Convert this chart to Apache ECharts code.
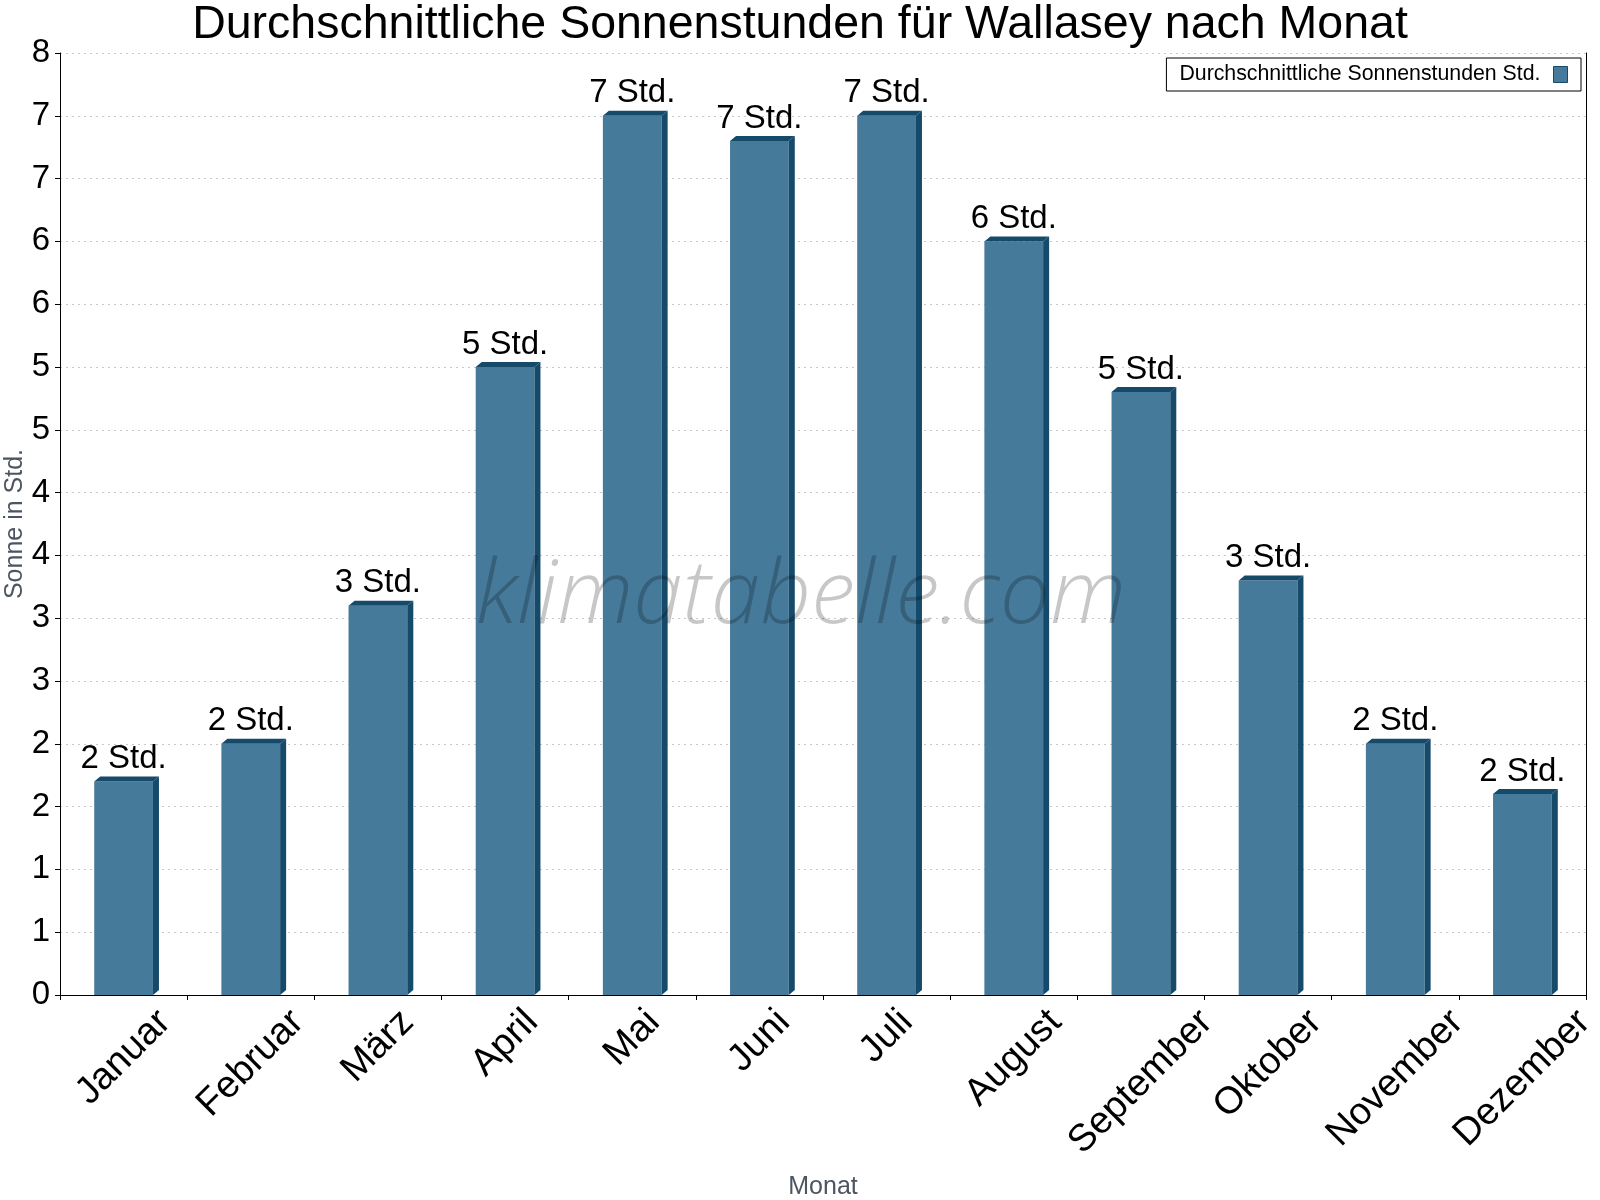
<!DOCTYPE html>
<html>
<head>
<meta charset="utf-8">
<title>Sonnenstunden Wallasey</title>
<script src="https://cdn.jsdelivr.net/npm/echarts@6/dist/echarts.min.js"></script>
<style>
  html, body { margin: 0; padding: 0; background: #fff; }
  #chart { width: 1600px; height: 1200px; }
</style>
</head>
<body>
<div id="chart"></div>
<script>
  // Daten
  const months = ['Januar', 'Februar', 'März', 'April', 'Mai', 'Juni', 'Juli', 'August', 'September', 'Oktober', 'November', 'Dezember']
  const sunHours = [1.7, 2.0, 3.1, 5.0, 7.0, 6.8, 7.0, 6.0, 4.8, 3.3, 2.0, 1.6]
  const seriesName = 'Durchschnittliche Sonnenstunden Std.'
  const yMax = 7.5
  const yStep = 0.5

  const font = '"Liberation Sans", Arial, sans-serif'
  const frontColor = '#467a9b'
  const sideColor = '#164a6a'
  const nameColor = '#4d5561'
  const xLabelSize = 38

  // Textbreite messen fuer die gedrehten Monatsnamen
  const ctx = document.createElement('canvas').getContext('2d')
  ctx.font = xLabelSize + 'px ' + font
  function textWidth(t) {
    return ctx.measureText(t).width
  }

  function renderBar(params, api) {
    const v = api.value(1)
    const base = api.coord([api.value(0), 0])
    const top = api.coord([api.value(0), v])
    const w = api.size([1, 0])[0] * 0.462
    const x0 = base[0] - w / 2
    const x1 = base[0] + w / 2
    const yb = base[1]
    const yt = top[1]
    const dx = 6
    const dy = 5
    return {
      type: 'group',
      children: [
        { type: 'rect', shape: { x: x0, y: yt, width: w, height: yb - yt }, style: { fill: frontColor } },
        { type: 'polygon', shape: { points: [[x1, yt], [x1 + dx, yt - dy], [x1 + dx, yb - dy], [x1, yb]] }, style: { fill: sideColor } },
        { type: 'polygon', shape: { points: [[x0, yt], [x0 + dx, yt - dy], [x1 + dx, yt - dy], [x1, yt]] }, style: { fill: sideColor } },
        {
          type: 'text',
          x: base[0],
          y: yt - dy - 1,
          style: {
            text: Math.round(v) + ' Std.',
            align: 'center',
            verticalAlign: 'bottom',
            fontSize: 33,
            fontFamily: font,
            fill: '#000'
          }
        }
      ]
    }
  }

  function renderMonth(params, api) {
    const i = api.value(0)
    const p = api.coord([i, 0])
    const label = months[i]
    const half = 0.7071 * (textWidth(label) + xLabelSize) / 2
    return {
      type: 'text',
      x: p[0],
      y: p[1] + 8 + half,
      rotation: Math.PI / 4,
      style: {
        text: label,
        align: 'center',
        verticalAlign: 'middle',
        fontSize: xLabelSize,
        fontFamily: font,
        fill: '#000'
      }
    }
  }

  const chart = echarts.init(document.getElementById('chart'))

  const option = {
    backgroundColor: '#fff',
    animation: false,
    title: {
      text: 'Durchschnittliche Sonnenstunden für Wallasey nach Monat',
      left: 'center',
      top: 2,
      padding: 0,
      textStyle: { fontSize: 46.5, fontWeight: 'normal', color: '#000', fontFamily: font }
    },
    legend: {
      data: [seriesName],
      right: 19,
      top: 58,
      align: 'right',
      icon: 'rect',
      itemWidth: 14,
      itemHeight: 16,
      padding: [6, 13, 6, 13],
      borderColor: '#000',
      borderWidth: 1,
      itemStyle: { borderColor: sideColor, borderWidth: 1 },
      textStyle: { fontSize: 21.3, color: '#000', fontFamily: font, padding: [0, 8, 0, 0] }
    },
    grid: {
      left: 60,
      right: 14,
      top: 53,
      bottom: 205,
      containLabel: false,
      outerBoundsMode: 'none'
    },
    xAxis: {
      type: 'category',
      data: months,
      name: 'Monat',
      nameLocation: 'middle',
      nameGap: 180,
      nameTextStyle: { fontSize: 25, color: nameColor, fontFamily: font },
      axisLine: { lineStyle: { color: '#000', width: 1 } },
      axisTick: { show: true, length: 5, lineStyle: { color: '#000' } },
      axisLabel: { show: false },
      splitLine: { show: false }
    },
    yAxis: [
      {
        type: 'value',
        min: 0,
        max: yMax,
        interval: yStep,
        name: 'Sonne in Std.',
        nameLocation: 'middle',
        nameRotate: 90,
        nameGap: 32,
        nameMoveOverlap: false,
        nameTextStyle: { fontSize: 25, color: nameColor, fontFamily: font },
        axisLine: { show: true, lineStyle: { color: '#000', width: 1 } },
        axisTick: { show: true, length: 5, lineStyle: { color: '#000' } },
        axisLabel: {
          fontSize: 33,
          color: '#000',
          fontFamily: font,
          margin: 10,
          formatter: (v) => String(Math.round(v))
        },
        splitLine: { show: true, lineStyle: { color: '#c8c8c8', type: [2, 4], width: 1 } }
      },
      {
        type: 'value',
        position: 'right',
        min: 0,
        max: yMax,
        interval: yStep,
        axisLine: { show: true, lineStyle: { color: '#000', width: 1 } },
        axisTick: { show: false },
        axisLabel: { show: false },
        splitLine: { show: false }
      }
    ],
    series: [
      {
        name: seriesName,
        type: 'custom',
        renderItem: renderBar,
        itemStyle: { color: frontColor },
        encode: { x: 0, y: 1 },
        data: sunHours.map((v, i) => [i, v]),
        z: 2
      },
      {
        name: 'Monate',
        type: 'custom',
        renderItem: renderMonth,
        silent: true,
        encode: { x: 0, y: 1 },
        data: months.map((m, i) => [i, 0]),
        z: 3
      }
    ],
    graphic: [
      {
        type: 'text',
        x: 801,
        y: 598,
        z: 100,
        silent: true,
        style: {
          text: 'klimatabelle.com',
          align: 'center',
          verticalAlign: 'middle',
          fontSize: 89,
          fontStyle: 'italic',
          fontWeight: 300,
          fontFamily: '"Open Sans", sans-serif',
          fill: 'rgba(0, 0, 0, 0.22)'
        }
      }
    ]
  }

  chart.setOption(option)
</script>
</body>
</html>
